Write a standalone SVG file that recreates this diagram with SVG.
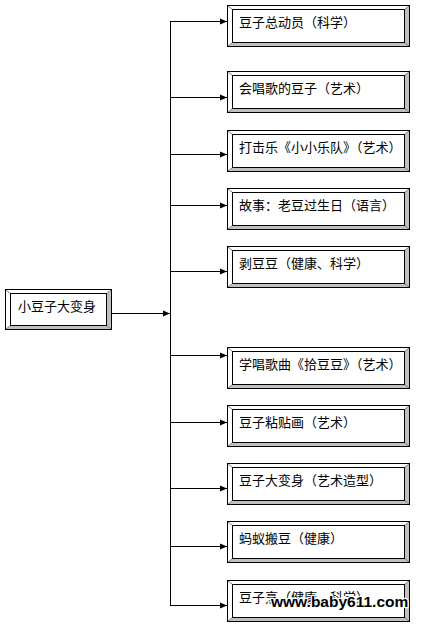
<svg xmlns="http://www.w3.org/2000/svg" xmlns:xlink="http://www.w3.org/1999/xlink" width="423" height="629" viewBox="0 0 423 629">
<style>
.lbl{font-family:"Noto Sans CJK SC","Liberation Sans",sans-serif;font-size:13px;fill:#000}
.edge{stroke:#000;stroke-width:1;fill:none}
.outer{fill:#c0c0c0;stroke:#000;stroke-width:1}
.lite{fill:#fff;stroke:none}
.diag{stroke:#808080;stroke-width:1}
.inner{fill:#fff;stroke:#000;stroke-width:1}
.wm{font-family:"Liberation Sans",Arial,sans-serif;font-size:15.5px;font-weight:bold;fill:#000;stroke:#fff;stroke-width:2.5;paint-order:stroke;stroke-linejoin:round}
</style>
<defs>
<marker id="ah" markerUnits="userSpaceOnUse" markerWidth="8" markerHeight="8" viewBox="0 0 8 8" refX="7" refY="4" orient="auto">
<path d="M0,1 L7,4 L0,7 Z" fill="#000"/>
</marker>
<g id="cb">
<rect class="outer" x="0" y="0" width="182" height="41"/>
<polygon class="lite" points="0.5,0.5 181.5,0.5 177,4 5,4 5,37 0.5,40.5"/>
<line class="diag" x1="0.5" y1="0.5" x2="5" y2="4"/>
<line class="diag" x1="181.5" y1="0.5" x2="177" y2="4"/>
<line class="diag" x1="0.5" y1="40.5" x2="5" y2="37"/>
<line class="diag" x1="181.5" y1="40.5" x2="177" y2="37"/>
<rect x="0" y="0" width="182" height="41" style="fill:none;stroke:#000"/>
<rect class="inner" x="5" y="4" width="172" height="33"/>
</g>
<g id="mb">
<rect class="outer" x="0" y="0" width="106" height="40"/>
<polygon class="lite" points="0.5,0.5 105.5,0.5 101,4 5,4 5,36 0.5,39.5"/>
<line class="diag" x1="0.5" y1="0.5" x2="5" y2="4"/>
<line class="diag" x1="105.5" y1="0.5" x2="101" y2="4"/>
<line class="diag" x1="0.5" y1="39.5" x2="5" y2="36"/>
<line class="diag" x1="105.5" y1="39.5" x2="101" y2="36"/>
<rect x="0" y="0" width="106" height="40" style="fill:none;stroke:#000"/>
<rect class="inner" x="5" y="4" width="96" height="32"/>
</g>
</defs>
<rect width="423" height="629" fill="#fff"/>
<g id="connectors">
<line class="edge" x1="112" y1="313.5" x2="170" y2="313.5" marker-end="url(#ah)"/>
<line class="edge" x1="170.5" y1="21.5" x2="170.5" y2="605.5"/>
<line class="edge" x1="170" y1="21.5" x2="227" y2="21.5" marker-end="url(#ah)"/>
<line class="edge" x1="170" y1="97.5" x2="227" y2="97.5" marker-end="url(#ah)"/>
<line class="edge" x1="170" y1="154.5" x2="227" y2="154.5" marker-end="url(#ah)"/>
<line class="edge" x1="170" y1="205.5" x2="227" y2="205.5" marker-end="url(#ah)"/>
<line class="edge" x1="170" y1="271.5" x2="227" y2="271.5" marker-end="url(#ah)"/>
<line class="edge" x1="170" y1="355.5" x2="227" y2="355.5" marker-end="url(#ah)"/>
<line class="edge" x1="170" y1="422.5" x2="227" y2="422.5" marker-end="url(#ah)"/>
<line class="edge" x1="170" y1="488.5" x2="227" y2="488.5" marker-end="url(#ah)"/>
<line class="edge" x1="170" y1="546.5" x2="227" y2="546.5" marker-end="url(#ah)"/>
<line class="edge" x1="170" y1="605.5" x2="227" y2="605.5" marker-end="url(#ah)"/>
</g>
<g id="n0"><use xlink:href="#mb" x="5.5" y="289.5"/><text class="lbl" x="18" y="311">小豆子大变身</text></g>
<g id="n1"><use xlink:href="#cb" x="227.5" y="5.5"/><text class="lbl" x="239" y="27">豆子总动员（科学）</text></g>
<g id="n2"><use xlink:href="#cb" x="227.5" y="71.5"/><text class="lbl" x="239" y="93">会唱歌的豆子（艺术）</text></g>
<g id="n3"><use xlink:href="#cb" x="227.5" y="130.5"/><text class="lbl" x="239" y="152">打击乐《小小乐队》（艺术）</text></g>
<g id="n4"><use xlink:href="#cb" x="227.5" y="188.5"/><text class="lbl" x="239" y="210">故事：老豆过生日（语言）</text></g>
<g id="n5"><use xlink:href="#cb" x="227.5" y="246.5"/><text class="lbl" x="239" y="268">剥豆豆（健康、科学）</text></g>
<g id="n6"><use xlink:href="#cb" x="227.5" y="347.5"/><text class="lbl" x="239" y="369">学唱歌曲《拾豆豆》（艺术）</text></g>
<g id="n7"><use xlink:href="#cb" x="227.5" y="405.5"/><text class="lbl" x="239" y="427">豆子粘贴画（艺术）</text></g>
<g id="n8"><use xlink:href="#cb" x="227.5" y="463.5"/><text class="lbl" x="239" y="485">豆子大变身（艺术造型）</text></g>
<g id="n9"><use xlink:href="#cb" x="227.5" y="521.5"/><text class="lbl" x="239" y="543">蚂蚁搬豆（健康）</text></g>
<g id="n10"><use xlink:href="#cb" x="227.5" y="580.5"/><text class="lbl" x="239" y="602">豆子烹（健康、科学）</text></g>
<text class="wm" x="271" y="607">www.baby611.com</text>
</svg>
